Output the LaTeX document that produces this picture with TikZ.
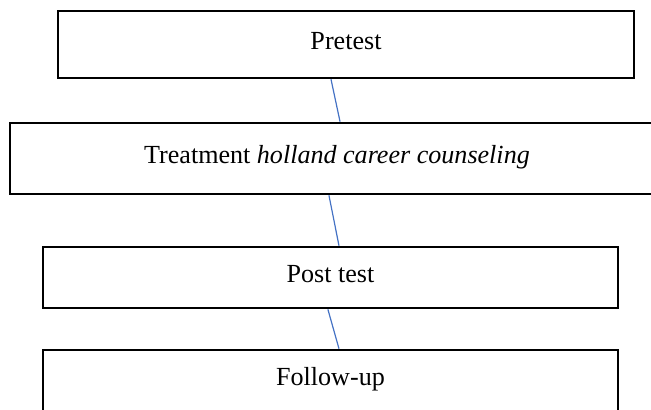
\documentclass[tikz,border=0pt]{standalone}
\usepackage{fontspec}
\setmainfont{Liberation Serif}
\definecolor{linkblue}{RGB}{68,114,196}
\begin{document}
\begin{tikzpicture}[x=0.46pt,y=-0.46pt,
		stage/.style={draw=black,line width=1.2pt,rectangle,font=\fontsize{12}{14}\selectfont,text height=8pt,text depth=3pt},
		link/.style={draw=linkblue,line width=0.55pt}]
				\clip (0,0) rectangle (651,410);
				\node[stage,minimum width=265pt,minimum height=30.8pt] (pre) at (346,44.5) {Pretest};
				\node[stage,minimum width=300.8pt,minimum height=32.7pt] (treat) at (337,158.5) {Treatment \textit{holland career counseling}};
				\node[stage,minimum width=264.5pt,minimum height=28.1pt] (post) at (330.5,277.5) {Post test};
				\node[stage,minimum width=264.5pt,minimum height=28.1pt] (follow) at (330.5,380.5) {Follow-up};
				\draw[link] ([xshift=-6.9pt]pre.south)--([xshift=1.4pt]treat.north);
				\draw[link] ([xshift=-3.7pt]treat.south)--([xshift=3.9pt]post.north);
				\draw[link] ([xshift=-1.2pt]post.south)--([xshift=3.9pt]follow.north);
			\end{tikzpicture}
\end{document}
